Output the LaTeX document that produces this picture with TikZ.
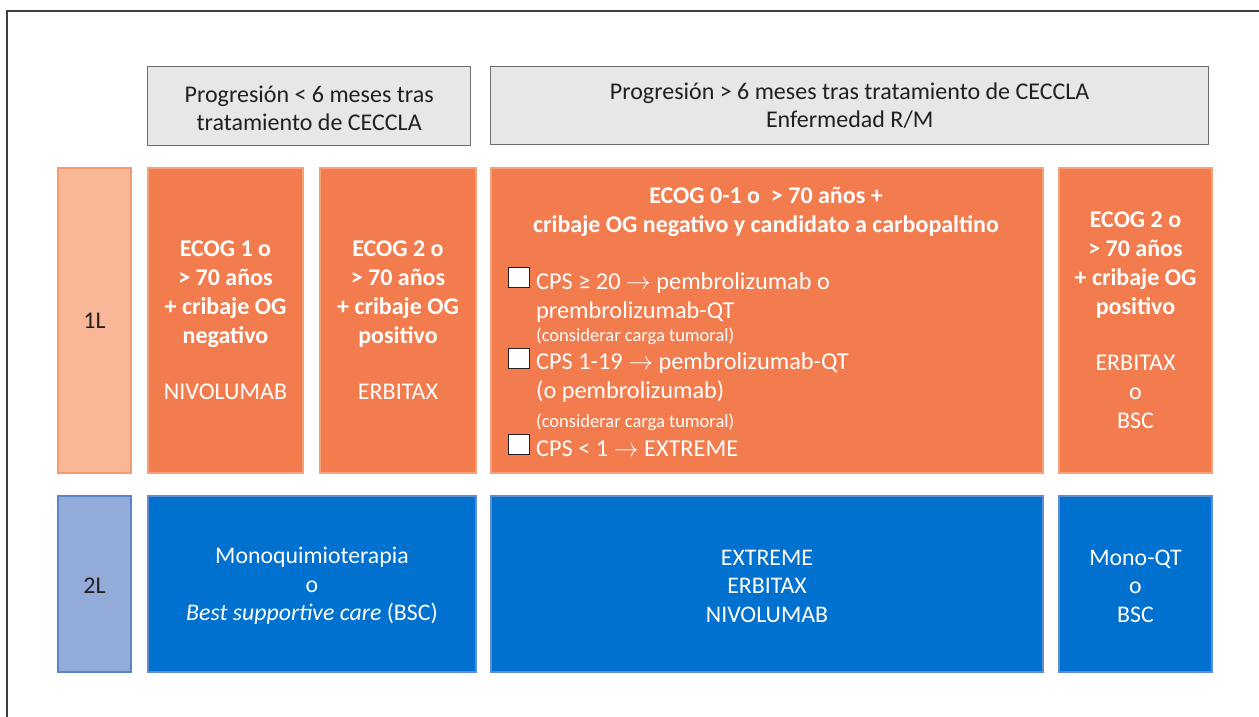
\documentclass[tikz,border=0pt]{standalone}
\usepackage{fontspec}
\setmainfont{Carlito}
\definecolor{hdrfill}{HTML}{E6E7E8}
\definecolor{hdrline}{HTML}{6E6E6E}
\definecolor{orfill}{HTML}{F37C4E}
\definecolor{orline}{HTML}{F8A07A}
\definecolor{lorfill}{HTML}{F9B797}
\definecolor{lorline}{HTML}{F49B70}
\definecolor{blfill}{HTML}{0071CE}
\definecolor{blline}{HTML}{5D8ED2}
\definecolor{lblfill}{HTML}{93ABD8}
\definecolor{lblline}{HTML}{5B86C6}
\definecolor{txtdark}{HTML}{231F20}
\newcommand{\myarr}{\ensuremath{\rightarrow}}
\tikzset{
  box/.style={anchor=north west, inner sep=0pt, align=center},
  hdr/.style={box, fill=hdrfill, draw=hdrline, line width=1.3pt},
  hdrtext/.style={inner sep=0pt, align=center, text=txtdark, font=\fontsize{24}{28}\selectfont},
  orbox/.style={box, fill=orfill, draw=orline, line width=2pt, text=white,
     font=\fontsize{24}{29}\selectfont},
  lorbox/.style={box, fill=lorfill, draw=lorline, line width=2pt, text=txtdark,
     font=\fontsize{24}{28}\selectfont},
  blbox/.style={box, fill=blfill, draw=blline, line width=2pt},
  bltext/.style={inner sep=0pt, align=center, text=white, font=\fontsize{23.8}{28.5}\selectfont},
  lblbox/.style={box, fill=lblfill, draw=lblline, line width=2pt},
  item/.style={anchor=base west, inner sep=0pt, text=white, font=\fontsize{24.3}{29}\selectfont},
  small/.style={anchor=base west, inner sep=0pt, text=white, font=\fontsize{18.5}{20}\selectfont},
  chk/.style={draw=txtdark, fill=white, line width=1.2pt, minimum width=21pt, minimum height=20pt, inner sep=0pt, anchor=north west},
  frame/.style={draw=black!75, line width=1.3pt}
}
\begin{document}
\begin{tikzpicture}[x=1pt,y=-1pt]
\useasboundingbox (0,0) rectangle (1259,717);
\coordinate (fbl) at (7,717);
\coordinate (ftl) at (7,11);
\coordinate (ftr) at (1259,11);
\draw[frame] (fbl) -- (ftl) -- (ftr);

% headers
\node[hdr, minimum width=323pt, minimum height=79pt] (h1) at (147,66) {};
\node[hdrtext] (h1t) at ([yshift=-2pt]h1.center) {Progresión < 6 meses tras\\tratamiento de CECCLA};
\node[hdr, minimum width=718pt, minimum height=78pt] (h2) at (490,66) {};
\node[hdrtext] (h2t) at (h2.center) {Progresión > 6 meses tras tratamiento de CECCLA\\Enfermedad R/M};

% row labels
\node[lorbox, minimum width=73pt, minimum height=305pt] (l1) at (57,167) {1L};
\node[lblbox, minimum width=73pt, minimum height=176pt] (l2) at (57,495) {};
\node[inner sep=0pt, text=txtdark, font=\fontsize{24}{28}\selectfont] (l2t) at ([yshift=-2pt]l2.center) {2L};

% 1L boxes
\node[orbox, minimum width=155pt, minimum height=305pt] (o1) at (147,167)
  {\textbf{ECOG 1 o}\\\textbf{> 70 años}\\\textbf{+ cribaje OG}\\\textbf{negativo}\\[27pt]NIVOLUMAB};
\node[orbox, minimum width=156pt, minimum height=305pt] (o2) at (319,167)
  {\textbf{ECOG 2 o}\\\textbf{> 70 años}\\\textbf{+ cribaje OG}\\\textbf{positivo}\\[27pt]ERBITAX};
\node[orbox, minimum width=552pt, minimum height=305pt] (o3) at (490,167) {};
\node[orbox, minimum width=153pt, minimum height=305pt] (o4) at (1058,167)
  {\textbf{ECOG 2 o}\\\textbf{> 70 años}\\\textbf{+ cribaje OG}\\\textbf{positivo}\\[27pt]ERBITAX\\o\\BSC};

% box 3 contents
\node[anchor=base, inner sep=0pt, text=white, font=\fontsize{24}{29}\bfseries\selectfont] (t1) at (766,203) {ECOG 0-1 o \ > 70 años +};
\node[anchor=base, inner sep=0pt, text=white, font=\fontsize{24}{29}\bfseries\selectfont] (t2) at (766,232) {cribaje OG negativo y candidato a carbopaltino};
\node[chk] (c1) at (508,267) {};
\node[item] (i1) at (536,289) {CPS ≥ 20 \myarr{} pembrolizumab o};
\node[item] (i1b) at (536,318) {prembrolizumab-QT};
\node[small] (s1) at (536,341) {(considerar carga tumoral)};
\node[chk] (c2) at (508,348) {};
\node[item] (i2) at (536,369) {CPS 1-19 \myarr{} pembrolizumab-QT};
\node[item] (i2b) at (536,398) {(o pembrolizumab)};
\node[small] (s2) at (536,427) {(considerar carga tumoral)};
\node[chk] (c3) at (508,434) {};
\node[item] (i3) at (536,456) {CPS < 1 \myarr{} EXTREME};

% 2L boxes
\node[blbox, minimum width=328pt, minimum height=176pt] (b1) at (147,495) {};
\node[bltext] (b1t) at ([yshift=-2pt]b1.center)
  {Monoquimioterapia\\o\\\textit{Best supportive care} (BSC)};
\node[blbox, minimum width=552pt, minimum height=176pt] (b2) at (490,495) {};
\node[bltext] (b2t) at ([yshift=-2pt]b2.center)
  {EXTREME\\ERBITAX\\NIVOLUMAB};
\node[blbox, minimum width=153pt, minimum height=176pt] (b3) at (1058,495) {};
\node[bltext] (b3t) at ([yshift=-2pt]b3.center)
  {Mono-QT\\o\\BSC};
\end{tikzpicture}
\end{document}
